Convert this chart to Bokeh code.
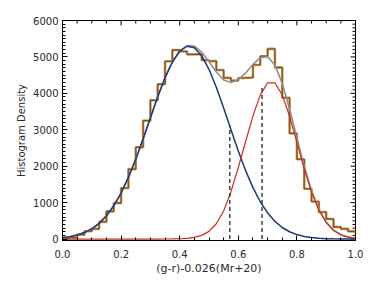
import math
from bokeh.plotting import figure
from bokeh.models import FixedTicker, Range1d
from bokeh.embed import file_html
from bokeh.resources import INLINE

# ---------------- data ----------------
bin_left = [0.000, 0.025, 0.050, 0.075, 0.100, 0.125, 0.150, 0.175, 0.200, 0.225,
            0.250, 0.275, 0.300, 0.325, 0.350, 0.375, 0.400, 0.425, 0.450, 0.475,
            0.500, 0.525, 0.550, 0.575, 0.600, 0.625, 0.650, 0.675, 0.700, 0.725,
            0.750, 0.775, 0.800, 0.825, 0.850, 0.875, 0.900, 0.925, 0.950, 0.975]
bin_end = 1.0
hist_density = [30, 40, 120, 215, 280, 470, 760, 990, 1400, 1920,
                2520, 3250, 3810, 4250, 4880, 5190, 5150, 5070, 5070, 4910,
                4885, 4640, 4425, 4350, 4420, 4430, 4780, 5020, 5220, 4710,
                3880, 2900, 2190, 1380, 1030, 740, 550, 330, 280, 210]

curve_x = [0.000, 0.025, 0.050, 0.075, 0.100, 0.125, 0.150, 0.175, 0.200, 0.225,
           0.250, 0.275, 0.300, 0.325, 0.350, 0.375, 0.400, 0.425, 0.450, 0.475,
           0.500, 0.525, 0.550, 0.575, 0.600, 0.625, 0.650, 0.675, 0.700, 0.725,
           0.750, 0.775, 0.800, 0.825, 0.850, 0.875, 0.900, 0.925, 0.950, 0.975, 1.000]
blue_fit = [37, 64, 109, 178, 281, 430, 638, 913, 1264, 1693,
            2193, 2749, 3332, 3907, 4431, 4860, 5157, 5293, 5252, 5034,
            4660, 4166, 3597, 2999, 2415, 1878, 1411, 1024, 717, 486,
            317, 200, 122, 72, 41, 22, 11, 6, 3, 1, 1]
red_fit = [0, 0, 0, 0, 0, 0, 0, 0, 0, 0,
           0, 0, 0, 0, 1, 3, 8, 20, 45, 100,
           210, 420, 770, 1300, 1964, 2679, 3382, 3952, 4290, 4290,
           3955, 3371, 2652, 1924, 1287, 795, 453, 238, 115, 51, 21]
total_fit = [37, 64, 109, 178, 281, 430, 638, 913, 1264, 1693,
             2193, 2749, 3332, 3907, 4432, 4863, 5165, 5313, 5297, 5134,
             4870, 4586, 4367, 4299, 4379, 4557, 4793, 4976, 5007, 4776,
             4272, 3571, 2774, 1996, 1328, 817, 464, 244, 118, 52, 22]

divider_x = [0.571, 0.681]
divider_top = [3130, 4150]

x_ticks = [0.0, 0.2, 0.4, 0.6, 0.8, 1.0]
x_tick_labels = ["0.0", "0.2", "0.4", "0.6", "0.8", "1.0"]
y_ticks = [0, 1000, 2000, 3000, 4000, 5000, 6000]
y_tick_labels = ["0", "1000", "2000", "3000", "4000", "5000", "6000"]
x_label = "(g-r)-0.026(Mr+20)"
y_label = "Histogram Density"

X_MIN, X_MAX, Y_MIN, Y_MAX = 0.0, 1.0, -40, 6000

# ---------------- figure ----------------
FONT = "DejaVu Sans"
TXT = "#2a2a2a"
p = figure(frame_width=293, frame_height=220, output_backend="svg",
           toolbar_location=None,
           x_range=Range1d(X_MIN, X_MAX), y_range=Range1d(Y_MIN, Y_MAX),
           min_border_left=62, min_border_right=13,
           min_border_top=20, min_border_bottom=36)
p.xgrid.visible = False
p.ygrid.visible = False
p.outline_line_color = "black"
p.outline_line_width = 1
p.background_fill_color = "white"
p.border_fill_color = "white"

x_minor = [round(t + k * 0.05, 3) for t in x_ticks[:-1] for k in range(1, 4)]
y_minor = [t + k * 100 for t in y_ticks[:-1] for k in range(1, 10)]


def style_axis(ax, ticker, labels):
    ax.ticker = ticker
    ax.major_label_overrides = {t: l for t, l in zip(ticker.ticks, labels)}
    ax.axis_line_color = "black"
    ax.axis_line_width = 1
    ax.major_tick_in = 5
    ax.major_tick_out = 0
    ax.minor_tick_in = 3
    ax.minor_tick_out = 0
    ax.major_tick_line_color = "black"
    ax.minor_tick_line_color = "black"
    ax.major_label_text_font = FONT
    ax.major_label_text_color = TXT
    ax.major_label_text_font_size = "10px"
    ax.axis_label_text_font = FONT
    ax.axis_label_text_font_style = "normal"
    ax.axis_label_text_color = TXT


xa = p.xaxis[0]
style_axis(xa, FixedTicker(ticks=x_ticks, minor_ticks=x_minor), x_tick_labels)
xa.axis_label = x_label
xa.axis_label_text_font_size = "11px"
xa.major_label_standoff = 9
xa.axis_label_standoff = 1

ya = p.yaxis[0]
style_axis(ya, FixedTicker(ticks=y_ticks, minor_ticks=y_minor), y_tick_labels)
ya.axis_label = y_label
ya.axis_label_text_font_size = "10px"
ya.major_label_standoff = 4
ya.axis_label_standoff = 3

# mirrored inward ticks on the top and right edges (no labels)
down = -math.pi / 2
left = math.pi
p.ray(x=x_ticks, y=[Y_MAX] * len(x_ticks), length=5, angle=down,
      length_units="screen", line_color="black", line_width=1)
p.ray(x=x_minor, y=[Y_MAX] * len(x_minor), length=3, angle=down,
      length_units="screen", line_color="black", line_width=1)
p.ray(x=[X_MAX] * len(y_ticks), y=y_ticks, length=5, angle=left,
      length_units="screen", line_color="black", line_width=1)
p.ray(x=[X_MAX] * len(y_minor), y=y_minor, length=3, angle=left,
      length_units="screen", line_color="black", line_width=1)

# ---------------- glyphs ----------------
step_x = bin_left + [bin_end]
step_y = hist_density + [hist_density[-1]]
p.step(step_x, step_y, mode="after", line_color="#c9a06c", line_width=2.6)
p.step(step_x, step_y, mode="after", line_color="#845419", line_width=1.3)

p.line(curve_x, total_fit, line_color="#8f8f8f", line_width=1.6)
p.line(curve_x, blue_fit, line_color="#1d3a78", line_width=1.5)
p.line(curve_x, red_fit, line_color="#cf2e1c", line_width=1.2)

p.segment(x0=divider_x, y0=[0, 0], x1=divider_x, y1=divider_top,
          line_color="#404040", line_width=1.5, line_dash="4 3")

open("out.html", "w").write(file_html(p, INLINE))
